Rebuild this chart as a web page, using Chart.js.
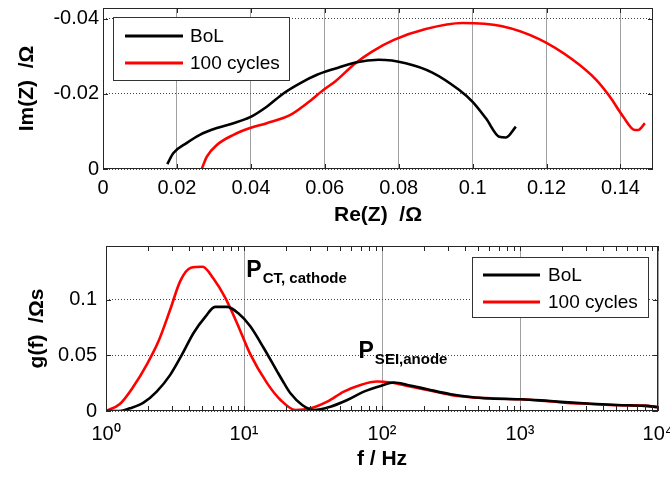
<!DOCTYPE html>
<html><head><meta charset="utf-8">
<script src="https://cdn.jsdelivr.net/npm/chart.js@4.4.0/dist/chart.umd.min.js"></script>
<style>
html,body{margin:0;padding:0;background:#fff;width:670px;height:479px;overflow:hidden}
canvas{position:absolute;left:0}
#c1{top:0}
#c2{top:232px}
</style></head><body>
<canvas id="c1" width="670" height="232"></canvas>
<canvas id="c2" width="670" height="247"></canvas>
<script>
// ---------- data ----------
const seriesLabels = ['BoL', '100 cycles'];
const seriesColors = ['#000000', '#ff0000'];

// Nyquist: Re(Z) / Ohm, Im(Z) / Ohm
const nyqBoLRe = [0.0174,0.0190,0.0226,0.0262,0.0308,0.0353,0.0398,0.0443,0.0489,0.0534,0.0579,0.0629,0.0683,0.0746,0.0819,0.0891,0.0963,0.1000,0.1036,0.1072,0.1090,0.1117];
const nyqBoLIm = [-0.0013,-0.0042,-0.0069,-0.0091,-0.0109,-0.0122,-0.0138,-0.0166,-0.0202,-0.0229,-0.0251,-0.0268,-0.0284,-0.0291,-0.0282,-0.0257,-0.0211,-0.0179,-0.0135,-0.0086,-0.0084,-0.0113];
const nyq100Re = [0.0267,0.0281,0.0308,0.0353,0.0398,0.0443,0.0507,0.0552,0.0597,0.0629,0.0683,0.0728,0.0787,0.0873,0.0973,0.1077,0.1180,0.1271,0.1335,0.1371,0.1407,0.1439,0.1448,0.1466];
const nyq100Im = [0,-0.0033,-0.0064,-0.0091,-0.0109,-0.0122,-0.0144,-0.0175,-0.0211,-0.0234,-0.0282,-0.0313,-0.0344,-0.0373,-0.0389,-0.0381,-0.0346,-0.0291,-0.0237,-0.0193,-0.0140,-0.0104,-0.0104,-0.0122];

// DRT: f / Hz, g(f) / Ohm s
const drtBoLF = [1,1.26,1.49,1.87,2.33,2.92,3.55,4.31,5.24,6.17,7.53,9.14,11.1,13.9,17.4,19.6,21.7,26.4,32.0,42.3,56,73.9,97.7,122,153,213,315,440,615,1014,1416,2094,3273,5110,7980,10000];
const drtBoLG = [0,0,0.0024,0.0075,0.0174,0.0324,0.0505,0.0700,0.0844,0.0934,0.0934,0.0874,0.0760,0.0565,0.0354,0.0245,0.0159,0.0054,0.0009,0.0039,0.0099,0.0174,0.0225,0.0255,0.0234,0.0195,0.0150,0.0125,0.0112,0.0105,0.0095,0.0080,0.0065,0.0054,0.0046,0.0036];
const drt100F = [1,1.26,1.58,1.97,2.40,2.92,3.45,4.12,5.01,6.02,7.32,8.89,11.1,14.7,18.4,23.6,30.3,40.1,52.9,69.9,92.4,115,153,213,315,440,615,1014,1416,2094,3273,5110,7980,10000];
const drt100G = [0,0.0063,0.0219,0.0414,0.0625,0.0910,0.1165,0.1285,0.1294,0.1186,0.1015,0.0790,0.0510,0.0250,0.0099,0.0009,0.0024,0.0084,0.0174,0.0234,0.0264,0.0255,0.0225,0.0189,0.0144,0.0123,0.0114,0.0105,0.0093,0.0075,0.0063,0.0051,0.0048,0.0033];

// ticks
const nyqXTicks = [0,0.02,0.04,0.06,0.08,0.1,0.12,0.14];
const nyqYTicks = [0,-0.02,-0.04];
const drtYTicks = [0,0.05,0.1];
const drtXDecades = [1,10,100,1000,10000];
const drtXDecadeLabels = ['10\u2070','10\u00B9','10\u00B2','10\u00B3','10\u2074'];

// peak annotations (anchored in data coordinates)
const peakMain = ['P','P'];
const peakSub = ['CT, cathode','SEI,anode'];
const peakF = [10.4, 67.6];
const peakG = [0.1198, 0.0477];

// ---------- helpers ----------
const FONT = '"Liberation Sans", Arial, Helvetica, sans-serif';
const zip = (a,b) => a.map((v,i)=>({x:v,y:b[i]}));
const fmt = v => (Math.abs(v) < 1e-12 ? '0' : String(+v.toFixed(3)));

const framePlugin = {
  id: 'frame',
  afterDatasetsDraw(chart) {
    const {ctx, chartArea:a, scales} = chart;
    ctx.save();
    ctx.strokeStyle = '#262626';
    ctx.lineWidth = 1;
    ctx.beginPath();
    scales.x.ticks.forEach(t => {
      const px = Math.round(scales.x.getPixelForValue(t.value)) + 0.5;
      ctx.moveTo(px, a.bottom); ctx.lineTo(px, a.bottom - 5);
      ctx.moveTo(px, a.top); ctx.lineTo(px, a.top + 5);
    });
    scales.y.ticks.forEach(t => {
      const py = Math.round(scales.y.getPixelForValue(t.value)) + 0.5;
      ctx.moveTo(a.left, py); ctx.lineTo(a.left + 5, py);
      ctx.moveTo(a.right, py); ctx.lineTo(a.right - 5, py);
    });
    ctx.stroke();
    ctx.strokeRect(Math.round(a.left) + 0.5, Math.round(a.top) + 0.5,
                   Math.round(a.right - a.left) - 1, Math.round(a.bottom - a.top) - 1);
    ctx.restore();
  }
};

const boxLegend = {
  id: 'boxLegend',
  afterDraw(chart, args, o) {
    const {ctx, chartArea:a} = chart;
    const x0 = o.side === 'left' ? a.left + o.dx : a.right - o.dx - o.w;
    const y0 = a.top + o.dy;
    ctx.save();
    ctx.fillStyle = '#fff';
    ctx.fillRect(x0, y0, o.w, o.h);
    ctx.strokeStyle = '#333';
    ctx.lineWidth = 1;
    ctx.strokeRect(x0 + 0.5, y0 + 0.5, o.w, o.h);
    ctx.font = o.fontSize + 'px ' + FONT;
    ctx.textBaseline = 'middle';
    ctx.fillStyle = '#000';
    chart.data.datasets.forEach((ds, i) => {
      const yy = y0 + o.firstRow + i * o.rowGap;
      ctx.strokeStyle = ds.borderColor;
      ctx.lineWidth = 3;
      ctx.beginPath();
      ctx.moveTo(x0 + o.lineX, yy); ctx.lineTo(x0 + o.lineX + o.lineW, yy);
      ctx.stroke();
      ctx.fillText(ds.label, x0 + o.textX, yy + 1);
    });
    ctx.restore();
  }
};

const peakLabels = {
  id: 'peakLabels',
  afterDraw(chart, args, o) {
    if (!o.show) return;
    const {ctx, scales} = chart;
    ctx.save();
    ctx.fillStyle = '#000';
    ctx.textBaseline = 'alphabetic';
    peakMain.forEach((m, i) => {
      const x = scales.x.getPixelForValue(peakF[i]);
      const y = scales.y.getPixelForValue(peakG[i]);
      ctx.font = 'bold 23px ' + FONT;
      ctx.fillText(m, x, y);
      const w = ctx.measureText(m).width;
      ctx.font = 'bold 15px ' + FONT;
      ctx.fillText(peakSub[i], x + w + 1, y + 6);
    });
    ctx.restore();
  }
};

const tickFont = {family: FONT, size: 20};
const titleFont = {family: FONT, size: 21, weight: 'bold'};

function lineDs(i, data) {
  return {label: seriesLabels[i], data, borderColor: seriesColors[i], backgroundColor: seriesColors[i],
          showLine: true, pointRadius: 0, borderWidth: 2.6, cubicInterpolationMode: 'monotone', fill: false};
}

const common = {
  responsive: false, animation: false, devicePixelRatio: 1,
  events: [],
};

// ---------- top: Nyquist ----------
new Chart(document.getElementById('c1'), {
  type: 'scatter',
  data: {datasets: [lineDs(0, zip(nyqBoLRe, nyqBoLIm)), lineDs(1, zip(nyq100Re, nyq100Im))]},
  plugins: [framePlugin, boxLegend],
  options: Object.assign({}, common, {
    layout: {padding: {left: 0, right: 17, top: 8, bottom: 0}},
    plugins: {
      legend: {display: false}, tooltip: {enabled: false},
      boxLegend: {side: 'left', dx: 10, dy: 9, w: 176, h: 63, firstRow: 19, rowGap: 27, lineX: 12, lineW: 58, textX: 77, fontSize: 19}
    },
    scales: {
      x: {
        type: 'linear', min: 0, max: 0.1488,
        afterBuildTicks: s => { s.ticks = nyqXTicks.map(v => ({value: v})); },
        afterFit: s => { s.height = 63; s.paddingLeft = 0; s.paddingRight = 0; },
        ticks: {font: tickFont, color: '#000', padding: 7, autoSkip: false, maxRotation: 0, callback: v => fmt(v)},
        grid: {color: '#a0a0a0', lineWidth: 1, drawTicks: false},
        border: {display: false},
        title: {display: true, text: 'Re(Z)  /\u03A9', font: titleFont, color: '#000', padding: {top: 0, bottom: 4}}
      },
      y: {
        type: 'linear', reverse: true, min: -0.0429, max: 0,
        afterBuildTicks: s => { s.ticks = nyqYTicks.map(v => ({value: v})); },
        afterFit: s => { s.width = 103; s.paddingTop = 0; s.paddingBottom = 0; },
        ticks: {font: tickFont, color: '#000', padding: 4, autoSkip: false, callback: v => fmt(v)},
        grid: {color: '#444', lineWidth: 1, drawTicks: false},
        border: {display: false, dash: [1, 2]},
        title: {display: true, text: 'Im(Z)  /\u03A9', font: titleFont, color: '#000', padding: {top: 15, bottom: 0}}
      }
    }
  })
});

// ---------- bottom: DRT ----------
const drtAllTicks = [];
drtXDecades.slice(0, -1).forEach(d => { for (let m = 1; m <= 9; m++) drtAllTicks.push(d * m); });
drtAllTicks.push(drtXDecades[drtXDecades.length - 1]);

new Chart(document.getElementById('c2'), {
  type: 'scatter',
  data: {datasets: [lineDs(0, zip(drtBoLF, drtBoLG)), lineDs(1, zip(drt100F, drt100G))]},
  plugins: [framePlugin, boxLegend, peakLabels],
  options: Object.assign({}, common, {
    layout: {padding: {left: 0, right: 12, top: 14, bottom: 0}},
    plugins: {
      legend: {display: false}, tooltip: {enabled: false},
      boxLegend: {side: 'right', dx: 10, dy: 11, w: 176, h: 60, firstRow: 18, rowGap: 27, lineX: 11, lineW: 57, textX: 76, fontSize: 19},
      peakLabels: {show: true}
    },
    scales: {
      x: {
        type: 'logarithmic', min: 1, max: 10000,
        afterBuildTicks: s => { s.ticks = drtAllTicks.map(v => ({value: v})); },
        afterFit: s => { s.height = 68; s.paddingLeft = 0; s.paddingRight = 0; },
        ticks: {font: tickFont, color: '#000', padding: 11, autoSkip: false, maxRotation: 0,
                callback: v => { const k = drtXDecades.indexOf(v); return k >= 0 ? drtXDecadeLabels[k] : ''; }},
        grid: {color: c => (drtXDecades.indexOf(c.tick && c.tick.value) >= 0 ? '#a0a0a0' : 'rgba(0,0,0,0)'), lineWidth: 1, drawTicks: false},
        border: {display: false},
        title: {display: true, text: 'f / Hz', font: titleFont, color: '#000', padding: {top: 0, bottom: 7}}
      },
      y: {
        type: 'linear', min: 0, max: 0.148,
        afterBuildTicks: s => { s.ticks = drtYTicks.map(v => ({value: v})); },
        afterFit: s => { s.width = 106; s.paddingTop = 0; s.paddingBottom = 0; },
        ticks: {font: tickFont, color: '#000', padding: 9, autoSkip: false, callback: v => fmt(v)},
        grid: {color: '#444', lineWidth: 1, drawTicks: false},
        border: {display: false, dash: [1, 2]},
        title: {display: true, text: 'g(f)  /\u03A9s', font: titleFont, color: '#000', padding: {top: 25, bottom: 0}}
      }
    }
  })
});
</script>
</body></html>
